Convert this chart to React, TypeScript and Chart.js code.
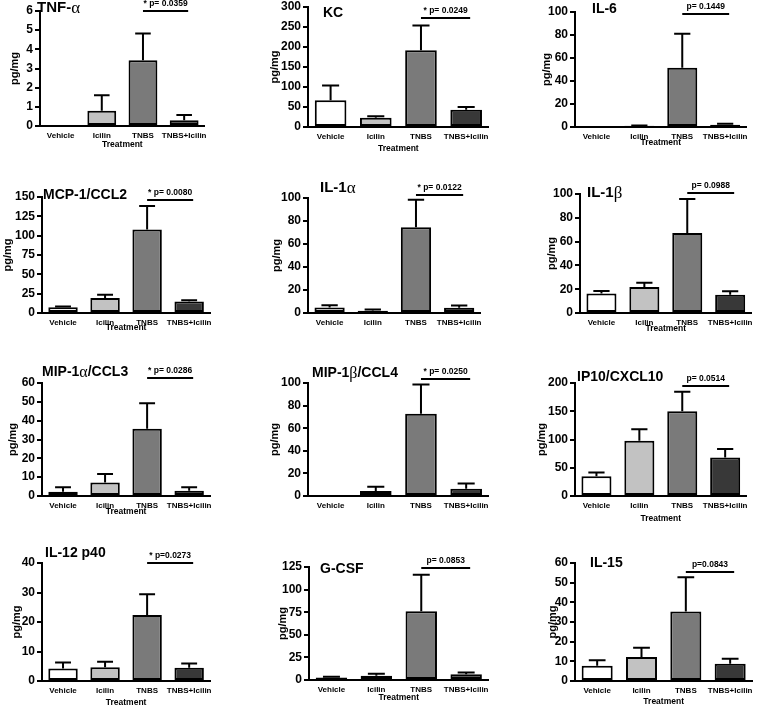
import React, { useEffect, useRef } from 'react';
import { Chart, registerables } from 'chart.js';
Chart.register(...registerables);

// ---------------- DATA ----------------
const categories = ['Vehicle', 'Icilin', 'TNBS', 'TNBS+Icilin'];
const panelTitles = ['TNF-α', 'KC', 'IL-6', 'MCP-1/CCL2', 'IL-1α', 'IL-1β', 'MIP-1α/CCL3', 'MIP-1β/CCL4', 'IP10/CXCL10', 'IL-12 p40', 'G-CSF', 'IL-15'];
const pLabels = ['* p= 0.0359', '* p= 0.0249', 'p= 0.1449', '* p= 0.0080', '* p= 0.0122', 'p= 0.0988', '* p= 0.0286', '* p= 0.0250', 'p= 0.0514', '* p=0.0273', 'p= 0.0853', 'p=0.0843'];
const yAxisMax = [6, 300, 100, 150, 100, 100, 60, 100, 200, 40, 125, 60];
const yAxisStep = [1, 50, 20, 25, 20, 20, 10, 20, 50, 10, 25, 10];
const yAxisLabel = 'pg/mg';
const xAxisLabel = 'Treatment';

const tnfMean = [0, 0.8, 3.43, 0.3];
const tnfErr = [0, 1.6, 4.82, 0.58];
const kcMean = [67, 23, 192, 43];
const kcErr = [104, 27, 254, 50];
const il6Mean = [0.5, 1.0, 51.5, 2.0];
const il6Err = [0.5, 1.4, 81, 2.8];
const mcp1Mean = [7.5, 19.5, 108, 15];
const mcp1Err = [8.5, 23.5, 138.5, 16.5];
const il1aMean = [4.8, 2.0, 74.5, 4.5];
const il1aErr = [6.8, 3.0, 98.5, 6.5];
const il1bMean = [16.3, 21.8, 67.2, 15.3];
const il1bErr = [18.4, 25.5, 95.8, 18.3];
const mip1aMean = [2.3, 7.2, 35.7, 2.8];
const mip1aErr = [4.6, 11.7, 49.2, 4.6];
const mip1bMean = [0, 4.4, 72.8, 6.5];
const mip1bErr = [0, 8.2, 98.6, 11.1];
const ip10Mean = [35, 98, 150, 68];
const ip10Err = [41.5, 118, 184.5, 83];
const il12Mean = [4.2, 4.7, 22.4, 4.5];
const il12Err = [6.3, 6.5, 29.4, 5.9];
const gcsfMean = [2.9, 4.8, 76, 6.3];
const gcsfErr = [3.6, 6.9, 116.3, 8.4];
const il15Mean = [7.8, 12.2, 35.3, 8.8];
const il15Err = [10.6, 16.9, 52.8, 11.3];

const means = [tnfMean, kcMean, il6Mean, mcp1Mean, il1aMean, il1bMean, mip1aMean, mip1bMean, ip10Mean, il12Mean, gcsfMean, il15Mean];
const errors = [tnfErr, kcErr, il6Err, mcp1Err, il1aErr, il1bErr, mip1aErr, mip1bErr, ip10Err, il12Err, gcsfErr, il15Err];

// ---------------- LAYOUT / STYLE ----------------
// plot rectangle on page [left, top, right, bottom]
const plotRects = [
  [40, 11, 208, 126], [308, 7, 490, 127], [575, 12, 749, 127],
  [42, 197, 213, 313], [308, 198, 483, 313], [580, 194, 754, 313],
  [42, 383, 213, 496], [308, 383, 490, 496], [575, 383, 749, 496],
  [42, 563, 213, 681], [309, 567, 490, 680], [575, 563, 754, 681],
];
// title offset from plot left/top (text middle), size
const titlePos = [
  [-3, -3, 15], [15, 6, 14], [17, -3, 14],
  [1, -2, 14], [12, -10, 15], [7, -1, 15],
  [0, -11, 14], [4, -10, 14], [2, -6, 14],
  [3, -10, 14], [11, 2, 14], [15, 0, 14],
];
const bracketDy = [0, 11, 2, 3, -3, -1, -5, -4, 3, 0, 1, 9];
const yTitleDx = [25, 33, 28, 34, 31, 28, 29, 33, 33, 25, 26, 22];
const treatDy: (number | null)[] = [19, 22, 16, 15, null, 16, 16, null, 23, 22, 18, 21];

const FONT = "'Liberation Sans', Arial, Helvetica, sans-serif";
const SERIF = "'Liberation Serif', 'DejaVu Serif', 'Times New Roman', serif";
const barColors = ['#ffffff', '#c2c2c2', '#7a7a7a', '#383838'];

const PAD_L = 46, PAD_T = 26, PAD_R = 4, PAD_B = 36;

function drawMixed(ctx: CanvasRenderingContext2D, text: string, x: number, y: number, size: number) {
  const runs: { t: string; g: boolean }[] = [];
  for (const ch of text) {
    const g = ch === 'α' || ch === 'β';
    if (runs.length && runs[runs.length - 1].g === g) runs[runs.length - 1].t += ch;
    else runs.push({ t: ch, g });
  }
  let cx = x;
  ctx.textAlign = 'left';
  ctx.textBaseline = 'middle';
  for (const r of runs) {
    ctx.font = r.g ? `${size + 2}px ${SERIF}` : `bold ${size}px ${FONT}`;
    ctx.fillText(r.t, cx, r.g ? y + 1 : y);
    cx += ctx.measureText(r.t).width;
  }
}

function Panel({ idx }: { idx: number }) {
  const ref = useRef<HTMLCanvasElement | null>(null);
  const [L, T, R, B] = plotRects[idx];
  const width = R - L + PAD_L + PAD_R;
  const height = B - T + PAD_T + PAD_B;

  useEffect(() => {
    const canvas = ref.current;
    if (!canvas) return;
    const m = means[idx];
    const e = errors[idx];
    const plugin = {
      id: 'extras' + idx,
      beforeDatasetsDraw(chart: any) {
        const ctx = chart.ctx as CanvasRenderingContext2D;
        const ys = chart.scales.y;
        const meta = chart.getDatasetMeta(0);
        ctx.save();
        ctx.strokeStyle = '#000';
        ctx.lineWidth = 2;
        meta.data.forEach((bar: any, i: number) => {
          if (e[i] <= m[i]) return;
          const x = bar.x;
          const y0 = ys.getPixelForValue(m[i]);
          const y1 = ys.getPixelForValue(e[i]);
          const half = bar.width * 0.27;
          ctx.beginPath();
          ctx.moveTo(x, y0);
          ctx.lineTo(x, y1);
          ctx.moveTo(x - half, y1);
          ctx.lineTo(x + half, y1);
          ctx.stroke();
        });
        ctx.restore();
      },
      afterDraw(chart: any) {
        const ctx = chart.ctx as CanvasRenderingContext2D;
        const ca = chart.chartArea;
        const xs = chart.scales.x;
        ctx.save();
        ctx.fillStyle = '#000';
        ctx.strokeStyle = '#000';
        // title
        const [tdx, tdy, tsz] = titlePos[idx];
        drawMixed(ctx, panelTitles[idx], ca.left + tdx, ca.top + tdy, tsz);
        // bracket
        const x1 = xs.getPixelForValue(2);
        const x2 = xs.getPixelForValue(3) + 4;
        const by = ca.top + bracketDy[idx];
        ctx.lineWidth = 2;
        ctx.beginPath();
        ctx.moveTo(x1, by);
        ctx.lineTo(x2, by);
        ctx.stroke();
        ctx.font = `bold 8.5px ${FONT}`;
        ctx.textAlign = 'center';
        ctx.textBaseline = 'middle';
        ctx.fillText(pLabels[idx], (x1 + x2) / 2, by - 7);
        // y title
        ctx.save();
        ctx.translate(ca.left - yTitleDx[idx], (ca.top + ca.bottom) / 2);
        ctx.rotate(-Math.PI / 2);
        ctx.font = `bold 11px ${FONT}`;
        ctx.textAlign = 'center';
        ctx.textBaseline = 'middle';
        ctx.fillText(yAxisLabel, 0, 0);
        ctx.restore();
        // x title
        const td = treatDy[idx];
        if (td !== null) {
          ctx.font = `bold 8.5px ${FONT}`;
          ctx.textAlign = 'center';
          ctx.textBaseline = 'middle';
          ctx.fillText(xAxisLabel, (ca.left + ca.right) / 2, ca.bottom + td);
        }
        ctx.restore();
      },
    };

    const chart = new Chart(canvas, {
      type: 'bar',
      data: {
        labels: categories,
        datasets: [
          {
            data: m,
            backgroundColor: barColors,
            borderColor: '#000',
            borderWidth: 2,
            borderSkipped: false,
            barPercentage: 0.7,
            categoryPercentage: 1,
          },
        ],
      },
      options: {
        responsive: false,
        animation: false,
        devicePixelRatio: 1,
        layout: { autoPadding: false, padding: { left: 0, top: PAD_T, right: PAD_R, bottom: 0 } },
        plugins: { legend: { display: false }, tooltip: { enabled: false }, title: { display: false } },
        scales: {
          x: {
            type: 'category',
            grid: { display: false, drawTicks: false },
            border: { display: true, color: '#000', width: 2 },
            ticks: { color: '#000', font: { family: FONT, size: 8, weight: 'bold' }, padding: 5, maxRotation: 0, autoSkip: false },
            afterFit: (s: any) => { s.height = PAD_B; },
          },
          y: {
            min: 0,
            max: yAxisMax[idx],
            grid: { drawOnChartArea: false, tickLength: 5, color: '#000', lineWidth: 2 },
            border: { display: true, color: '#000', width: 2 },
            ticks: { stepSize: yAxisStep[idx], color: '#000', font: { family: FONT, size: 12, weight: 'bold' }, padding: 2 },
            afterFit: (s: any) => { s.width = PAD_L; },
          },
        },
      } as any,
      plugins: [plugin],
    });
    return () => chart.destroy();
  }, [idx]);

  return (
    <canvas
      ref={ref}
      width={width}
      height={height}
      style={{ position: 'absolute', left: L - PAD_L, top: T - PAD_T, width, height }}
    />
  );
}

export default function App() {
  return (
    <div style={{ position: 'absolute', left: 0, top: 0, width: 758, height: 707, overflow: 'hidden', background: '#fff' }}>
      {panelTitles.map((_, i) => (
        <Panel key={i} idx={i} />
      ))}
    </div>
  );
}
